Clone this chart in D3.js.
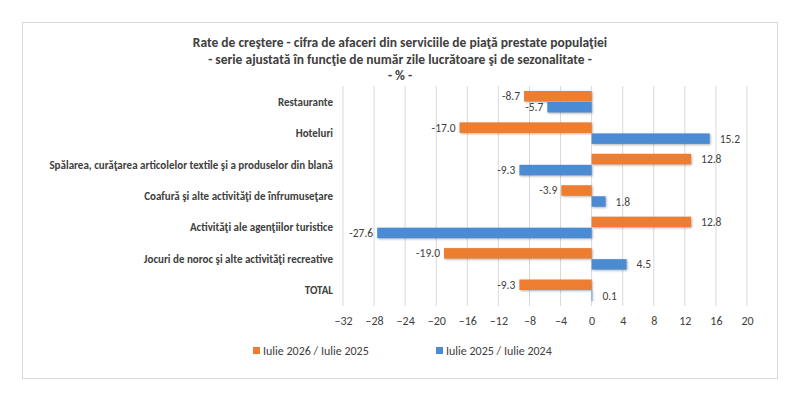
<!DOCTYPE html>
<html><head><meta charset="utf-8">
<script src="https://cdn.jsdelivr.net/npm/d3@7"></script>
<style>body{margin:0;background:#fff}text{font-family:Calibri,Carlito,"Liberation Sans",Arial,sans-serif}</style>
</head><body>
<script>
var categories = ['Restaurante', 'Hoteluri', 'Spălarea, curăţarea articolelor textile şi a produselor din blană',
  'Coafură şi alte activităţi de înfrumuseţare', 'Activităţi ale agenţiilor turistice',
  'Jocuri de noroc şi alte activităţi recreative', 'TOTAL'];
var series2026 = [-8.7, -17.0, 12.8, -3.9, 12.8, -19.0, -9.3];
var series2025 = [-5.7, 15.2, -9.3, 1.8, -27.6, 4.5, 0.1];
var seriesNames = ['Iulie 2026 / Iulie 2025', 'Iulie 2025 / Iulie  2024'];
var ticks = [-32, -28, -24, -20, -16, -12, -8, -4, 0, 4, 8, 12, 16, 20];
var colors = ['#ed7d31', '#4a8bd4'];
var titles = ['Rate de creştere - cifra de afaceri din serviciile de piaţă prestate populaţiei',
  '- serie ajustată în funcţie de număr zile lucrătoare şi de sezonalitate -', '- % -'];

var svg = d3.select('body').append('svg').attr('width', 800).attr('height', 400);
svg.append('rect').attr('x', 22.5).attr('y', 22.5).attr('width', 755).attr('height', 356)
  .attr('fill', '#fff').attr('stroke', '#d9d9d9');

svg.selectAll('.title').data(titles).enter().append('text')
  .attr('x', 400).attr('y', function(d, i) { return [47, 64, 80][i]; })
  .attr('text-anchor', 'middle').attr('font-size', 13.5).attr('font-weight', 'bold')
  .attr('fill', '#404040').text(function(d) { return d; });

var x = d3.scaleLinear().domain([-32, 20]).range([343, 747]);
var y = d3.scaleBand().domain(categories).range([86, 306]);
var inner = d3.scaleBand().domain([0, 1]).range([0, y.bandwidth()]).paddingInner(0.05).paddingOuter(0.45);

svg.append('g').selectAll('line').data(ticks).enter().append('line')
  .attr('x1', function(d) { return x(d); }).attr('x2', function(d) { return x(d); })
  .attr('y1', 86).attr('y2', 306).attr('stroke', '#d9d9d9');

var axis = svg.append('g').attr('transform', 'translate(0,306)')
  .call(d3.axisBottom(x).tickValues(ticks).tickSize(0).tickPadding(10));
axis.select('.domain').remove();
axis.selectAll('text').attr('font-size', 12).attr('fill', '#404040')
  .style('font-family', 'Calibri,Carlito,"Liberation Sans",Arial,sans-serif');

svg.selectAll('.cat').data(categories).enter().append('text')
  .attr('x', 333).attr('y', function(d) { return y(d) + y.bandwidth() / 2 + 4; })
  .attr('text-anchor', 'end').attr('font-size', 11).attr('font-weight', 'bold')
  .attr('fill', '#404040').text(function(d) { return d; });

[series2026, series2025].forEach(function(vals, s) {
  var g = svg.append('g');
  g.selectAll('rect').data(vals).enter().append('rect')
    .attr('x', function(d) { return x(Math.min(0, d)); })
    .attr('y', function(d, i) { return y(categories[i]) + inner(s); })
    .attr('width', function(d) { return Math.abs(x(d) - x(0)); })
    .attr('height', inner.bandwidth()).attr('fill', colors[s])
    .style('filter', 'drop-shadow(1px 1px 1px rgba(0,0,0,0.3))');
  g.selectAll('text').data(vals).enter().append('text')
    .attr('x', function(d) { return d < 0 ? x(d) - 4 : x(d) + 10; })
    .attr('y', function(d, i) { return y(categories[i]) + inner(s) + inner.bandwidth() / 2 + 4; })
    .attr('text-anchor', function(d) { return d < 0 ? 'end' : 'start'; })
    .attr('font-size', 11.5).attr('fill', '#404040').text(function(d) { return d.toFixed(1); });
});

var leg = svg.selectAll('.leg').data(seriesNames).enter().append('g')
  .attr('transform', function(d, i) { return 'translate(' + [253, 436][i] + ',347)'; });
leg.append('rect').attr('width', 7).attr('height', 7).attr('fill', function(d, i) { return colors[i]; });
leg.append('text').attr('x', 10).attr('y', 7.5).attr('font-size', 12).attr('fill', '#404040')
  .text(function(d) { return d; });
</script>
</body></html>
